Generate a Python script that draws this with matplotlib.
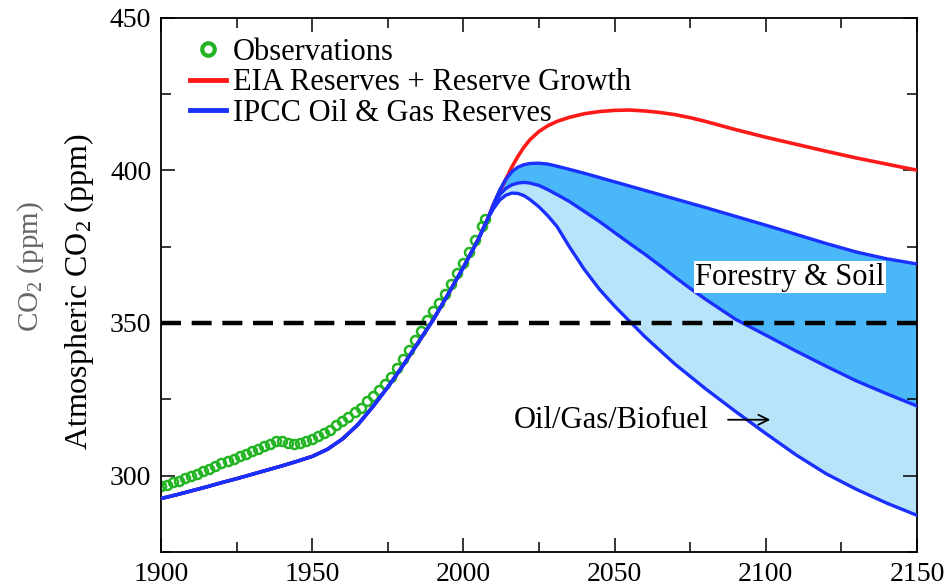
import matplotlib
matplotlib.use("Agg")
import matplotlib.pyplot as plt
from matplotlib.ticker import MultipleLocator
from matplotlib.lines import Line2D

# ---------------- data ----------------
obs_years = list(range(1900, 2007, 2)) + [2007]
obs_co2 = [296.5, 297.1, 297.8, 298.4, 299.2, 300.0, 300.7, 301.6, 302.3, 303.1,
           304.0, 304.8, 305.5, 306.4, 307.2, 308.0, 308.7, 309.6, 310.5, 311.3,
           311.4, 310.8, 310.4, 310.6, 311.3, 312.0, 313.0, 314.0, 315.1, 316.6,
           318.0, 319.3, 320.8, 322.3, 324.3, 326.0, 328.0, 330.1, 332.3, 335.3,
           338.2, 341.0, 344.3, 347.5, 350.9, 354.0, 356.6, 359.4, 362.8, 366.3,
           369.6, 373.3, 377.2, 381.6, 384.0]

hist_years = [1900, 1905, 1910, 1915, 1920, 1925, 1930, 1935, 1940, 1945, 1950,
              1955, 1960, 1965, 1970, 1975, 1980, 1985, 1990, 1995, 2000, 2005]
hist_co2 = [292.5, 293.7, 295.0, 296.3, 297.7, 299.0, 300.4, 301.8, 303.2, 304.7,
            306.3, 308.6, 312.0, 316.6, 322.5, 329.0, 336.0, 343.5, 351.0, 359.5,
            368.2, 377.5]

fut_years = [2008, 2010, 2012, 2014, 2016, 2018, 2020, 2022, 2025, 2028, 2031,
             2035, 2040, 2045, 2050, 2055, 2060, 2065, 2070, 2075, 2080, 2090,
             2100, 2110, 2120, 2130, 2140, 2150]
eia = [384, 389, 393, 397, 401, 404.5, 407.5, 410, 412.7, 414.6, 416, 417.3,
       418.5, 419.2, 419.6, 419.7, 419.4, 418.9, 418.2, 417.2, 416.0, 413.3,
       410.8, 408.5, 406.2, 404.0, 402.0, 400.0]
ipcc_upper = [384, 389, 393.5, 397, 399.5, 401, 401.8, 402.2, 402.3, 402, 401.3,
              400.3, 399, 397.6, 396.2, 394.8, 393.4, 392, 390.6, 389.2, 387.8,
              384.9, 382, 379, 376, 373.2, 371, 369.3]
ipcc_middle = [384, 388.5, 392, 394, 395.2, 395.8, 396, 395.8, 395, 393.6, 392,
               389.8, 386.5, 383.2, 379.6, 376, 372.5, 368.8, 365, 361.3, 357.8,
               351.2, 346, 340.8, 335.8, 331, 326.8, 322.8]
ipcc_lower = [384, 387.5, 390.2, 391.8, 392.5, 392.4, 391.7, 390.4, 388, 385,
              381.5, 375, 367.5, 361, 355.5, 350.5, 345.5, 341, 336.5, 332.5,
              328.5, 321, 313.8, 306.8, 300.6, 295.5, 291, 287]

target_level = 350
x_ticks = [1900, 1950, 2000, 2050, 2100, 2150]
y_ticks = [300, 350, 400, 450]

# ---------------- style ----------------
plt.rcParams['font.family'] = ['Liberation Serif', 'DejaVu Serif']
plt.rcParams['mathtext.fontset'] = 'custom'
plt.rcParams['mathtext.rm'] = 'Liberation Serif'
plt.rcParams['mathtext.it'] = 'Liberation Serif:italic'

RED = '#ff1a1a'
BLUE = '#1a30ff'
DARK_FILL = '#4ab8f8'
LIGHT_FILL = '#b8e4fa'
GREEN = '#22b422'

fig = plt.figure(figsize=(9.52, 5.88), dpi=100)
ax = fig.add_axes([161/952, 1-552/588, (917-161)/952, (552-17.5)/588])

# fills
ax.fill_between(fut_years, ipcc_middle, ipcc_upper, color=DARK_FILL, lw=0, zorder=1)
ax.fill_between(fut_years, ipcc_lower, ipcc_middle, color=LIGHT_FILL, lw=0, zorder=1)

# observations
ax.plot(obs_years, obs_co2, linestyle='none', marker='o', ms=6.5, mfc='none',
        mec=GREEN, mew=1.8, zorder=2)

# model lines
ax.plot(hist_years + fut_years, hist_co2 + eia, color=RED, lw=2.6, zorder=3)
for series in (ipcc_upper, ipcc_middle, ipcc_lower):
    ax.plot(hist_years + fut_years, hist_co2 + series, color=BLUE, lw=2.4, zorder=4)

# 350 ppm line
ax.axhline(target_level, color='black', lw=3.2, linestyle=(0, (4.5, 2.4)), zorder=5)

# annotations
ax.text(2108, 365, 'Forestry & Soil', fontsize=22, ha='center', va='center',
        bbox=dict(facecolor='white', edgecolor='none', pad=1.0), zorder=6)
ax.text(2048.8, 318, 'Oil/Gas/Biofuel', fontsize=22, ha='center', va='center', zorder=6)
ax.annotate('', xy=(2101.5, 318.3), xytext=(2087.5, 318.3),
            arrowprops=dict(arrowstyle='->', lw=1.3, color='black',
                            shrinkA=0, shrinkB=0, mutation_scale=18), zorder=6)

# axes
ax.set_xlim(1900, 2150)
ax.set_ylim(275, 450)
ax.set_xticks(x_ticks)
ax.set_yticks(y_ticks)
ax.xaxis.set_minor_locator(MultipleLocator(25))
ax.yaxis.set_minor_locator(MultipleLocator(25))
ax.tick_params(which='both', direction='in', top=True, right=True, width=1.1)
ax.tick_params(which='major', length=10, labelsize=20, pad=7)
ax.tick_params(which='minor', length=7)
for s in ax.spines.values():
    s.set_linewidth(1.3)

# legend
handles = [
    Line2D([], [], linestyle='none', marker='o', ms=9, mfc='none', mec=GREEN, mew=3),
    Line2D([], [], color=RED, lw=3.5),
    Line2D([], [], color=BLUE, lw=3.5),
]
labels = ['Observations', 'EIA Reserves + Reserve Growth', 'IPCC Oil & Gas Reserves']
ax.legend(handles, labels, loc='upper left', bbox_to_anchor=(0.038, 0.962),
          frameon=False, fontsize=22, handlelength=1.2, handletextpad=0.2,
          labelspacing=0.05, borderaxespad=0, borderpad=0)

# y labels
fig.text(79/952, 1-291.5/588, 'Atmospheric CO$_2$ (ppm)', rotation=90,
         fontsize=23, ha='center', va='center')
fig.text(31/952, 1-267/588, 'CO$_2$ (ppm)', rotation=90, fontsize=21,
         color='#666666', ha='center', va='center')

fig.savefig('out.png', dpi=100)
